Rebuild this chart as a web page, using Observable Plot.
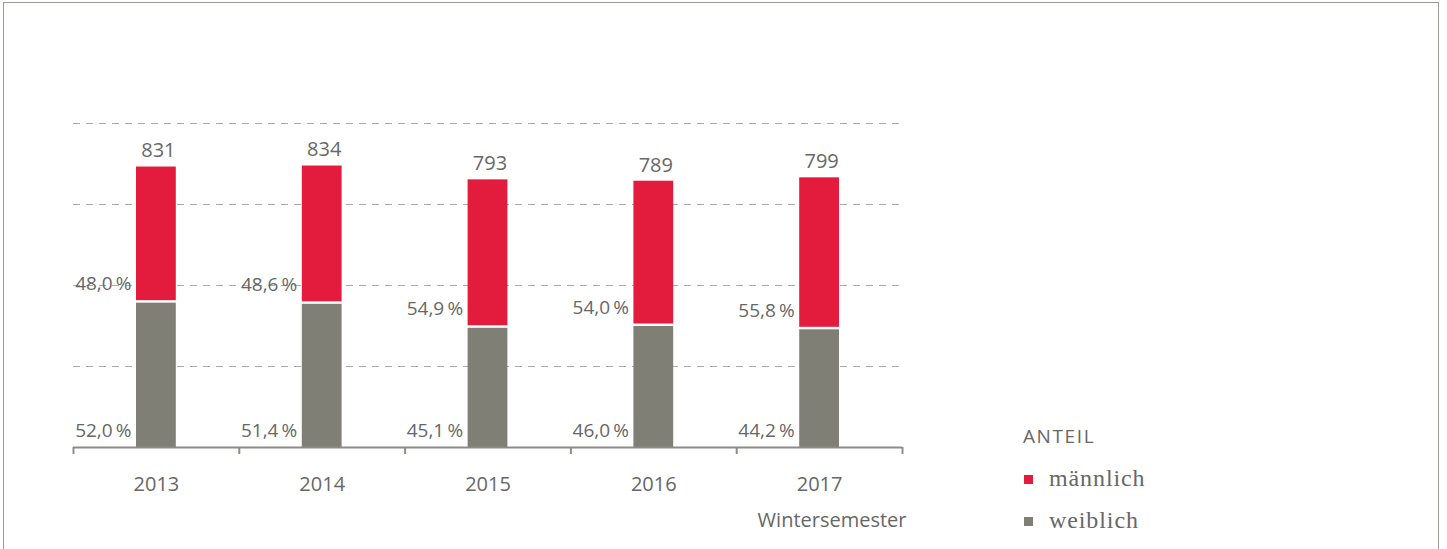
<!DOCTYPE html>
<html>
<head>
<meta charset="utf-8">
<script src="https://cdn.jsdelivr.net/npm/d3@7"></script>
<script src="https://cdn.jsdelivr.net/npm/@observablehq/plot@0.6"></script>
<style>
  html, body { margin: 0; padding: 0; background: #fff; }
  #wrap { position: relative; width: 1447px; height: 549px; overflow: hidden; font-family: "Open Sans", sans-serif; }
  #frame { position: absolute; left: 3px; top: 2px; width: 1436px; height: 600px; border: 1.5px solid #9c9c94; border-bottom: none; box-sizing: border-box; }
  #legend { position: absolute; left: 1023px; top: 420px; color: #676767; }
  #legend .title { position: absolute; left: 0; top: 3px; font-family: "Open Sans", sans-serif; font-size: 19px; letter-spacing: 1.6px; white-space: nowrap; }
  #legend .item { position: absolute; left: 1px; white-space: nowrap; font-family: "Liberation Serif", serif; font-size: 24px; letter-spacing: 0.9px; }
  #legend .sw { display: inline-block; width: 9px; height: 9px; margin-right: 16px; vertical-align: 2px; }
  #chart { position: absolute; left: 0; top: 0; }
</style>
</head>
<body>
<div id="wrap">
  <div id="frame"></div>
  <div id="chart"></div>
  <div id="legend"></div>
</div>
<script>
const years = ["2013", "2014", "2015", "2016", "2017"];
const totals = [831, 834, 793, 789, 799];
const malePct = [48.0, 48.6, 54.9, 54.0, 55.8];
const femalePct = [52.0, 51.4, 45.1, 46.0, 44.2];
const gridValues = [240, 480, 720, 960];
const seriesNames = ["männlich", "weiblich"];
const seriesColors = ["#e31b3c", "#807f76"];
const legendTitle = "ANTEIL";
const axisLabel = "Wintersemester";

const rows = years.map((y, i) => ({
  i, year: y, total: totals[i], male: malePct[i], female: femalePct[i],
  split: totals[i] * femalePct[i] / 100
}));
const fmt = v => v.toFixed(1).replace(".", ",") + "\u2009%";
const textColor = "#676767";
const axisColor = "#8c8c84";

const plot = Plot.plot({
  width: 1447,
  height: 549,
  marginLeft: 73,
  marginRight: 545,
  marginTop: 123,
  marginBottom: 102,
  style: { fontFamily: "'Open Sans', sans-serif", background: "transparent" },
  x: { domain: [0, years.length], axis: null },
  y: { domain: [0, 960], axis: null },
  marks: [
    Plot.ruleY(gridValues, { stroke: "#aaaaaa", strokeWidth: 1.2, strokeDasharray: "7,6" }),
    Plot.rectY(rows, { x1: d => d.i + 0.38, x2: d => d.i + 0.62, y1: 0, y2: d => d.split, fill: seriesColors[1], insetTop: 1.5 }),
    Plot.rectY(rows, { x1: d => d.i + 0.38, x2: d => d.i + 0.62, y1: d => d.split, y2: d => d.total, fill: seriesColors[0], insetBottom: 1 }),
    Plot.ruleY([0], { stroke: axisColor, strokeWidth: 2 }),
    Plot.axisX({ ticks: d3.range(years.length + 1), tickFormat: () => "", tickSize: 7, stroke: axisColor, strokeWidth: 2 }),
    Plot.text(rows, { x: d => d.i + 0.5, y: 0, text: "year", dy: 37.5, fontSize: 20, letterSpacing: "0.5px", fill: textColor }),
    Plot.text(rows, { x: d => d.i + 0.5, y: "total", text: d => String(d.total), dy: -16, dx: 2, fontSize: 20, letterSpacing: "0.5px", fill: textColor }),
    Plot.text(rows, { x: d => d.i + 0.38, y: "split", text: d => fmt(d.male), dy: -17.5, dx: -5, textAnchor: "end", fontSize: 19, fill: textColor }),
    Plot.text(rows, { x: d => d.i + 0.38, y: 0, text: d => fmt(d.female), dy: -17, dx: -5, textAnchor: "end", fontSize: 19, fill: textColor }),
    Plot.text([axisLabel], { x: years.length, y: 0, text: d => d, dy: 73, dx: 4, textAnchor: "end", fontSize: 20, letterSpacing: "0.3px", fill: textColor })
  ]
});
document.getElementById("chart").appendChild(plot);

const legend = document.getElementById("legend");
legend.innerHTML =
  `<div class="title">${legendTitle}</div>` +
  seriesNames.map((n, k) =>
    `<div class="item" style="top:${45 + k * 42}px"><span class="sw" style="background:${seriesColors[k]}"></span>${n}</div>`
  ).join("");
</script>
</body>
</html>
